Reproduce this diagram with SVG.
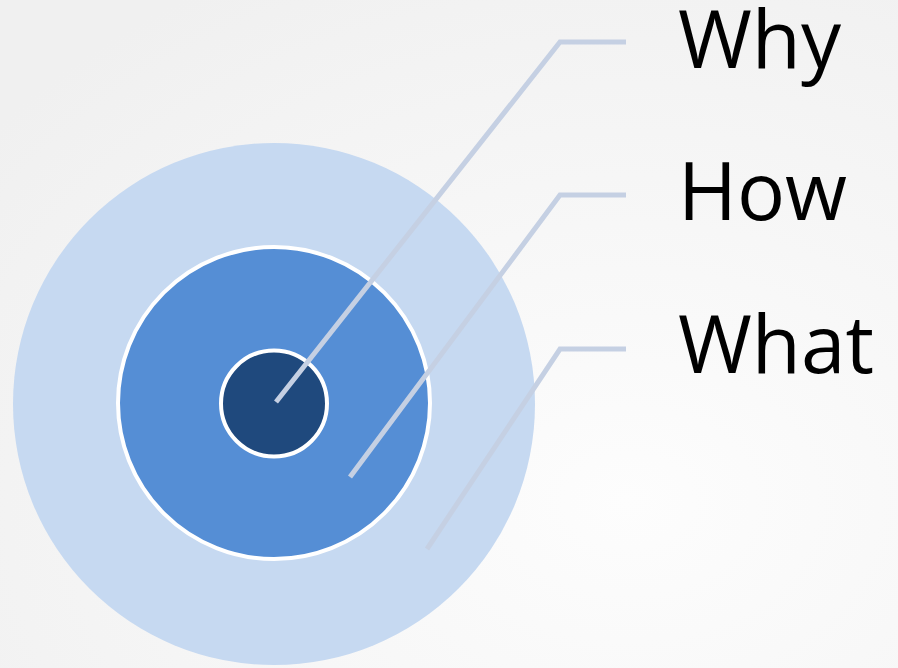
<svg xmlns="http://www.w3.org/2000/svg" width="898" height="668" viewBox="0 0 898 668">
<defs>
<radialGradient id="bg" cx="0.7" cy="0.75" r="0.9">
<stop offset="0" stop-color="#fdfdfd"/>
<stop offset="1" stop-color="#f0f0f0"/>
</radialGradient>
</defs>
<style>
.ring{stroke:#ffffff;stroke-width:4}
.conn{fill:none;stroke:#c5d0e3;stroke-width:5;stroke-linejoin:miter}
.lbl{font-family:"Open Sans","Noto Sans",sans-serif;font-size:80px;fill:#000000}
</style>
<rect x="0" y="0" width="898" height="668" fill="url(#bg)"/>
<g id="what-ring"><circle cx="274" cy="404" r="261" fill="#c6d9f1"/></g>
<g id="how-ring"><circle class="ring" cx="274" cy="403" r="156" fill="#558ed5"/></g>
<g id="why-ring"><circle class="ring" cx="274" cy="403.5" r="53" fill="#1f497d"/></g>
<g id="connectors">
<polyline class="conn" points="276,402 560,42 626,42"/>
<polyline class="conn" points="350,477 560,195 626,195"/>
<polyline class="conn" points="427,549 560,349 626,349"/>
</g>
<g id="label-why"><text class="lbl" x="678" y="68">Why</text></g>
<g id="label-how"><text class="lbl" x="678" y="220">How</text></g>
<g id="label-what"><text class="lbl" x="678" y="373">What</text></g>
</svg>
